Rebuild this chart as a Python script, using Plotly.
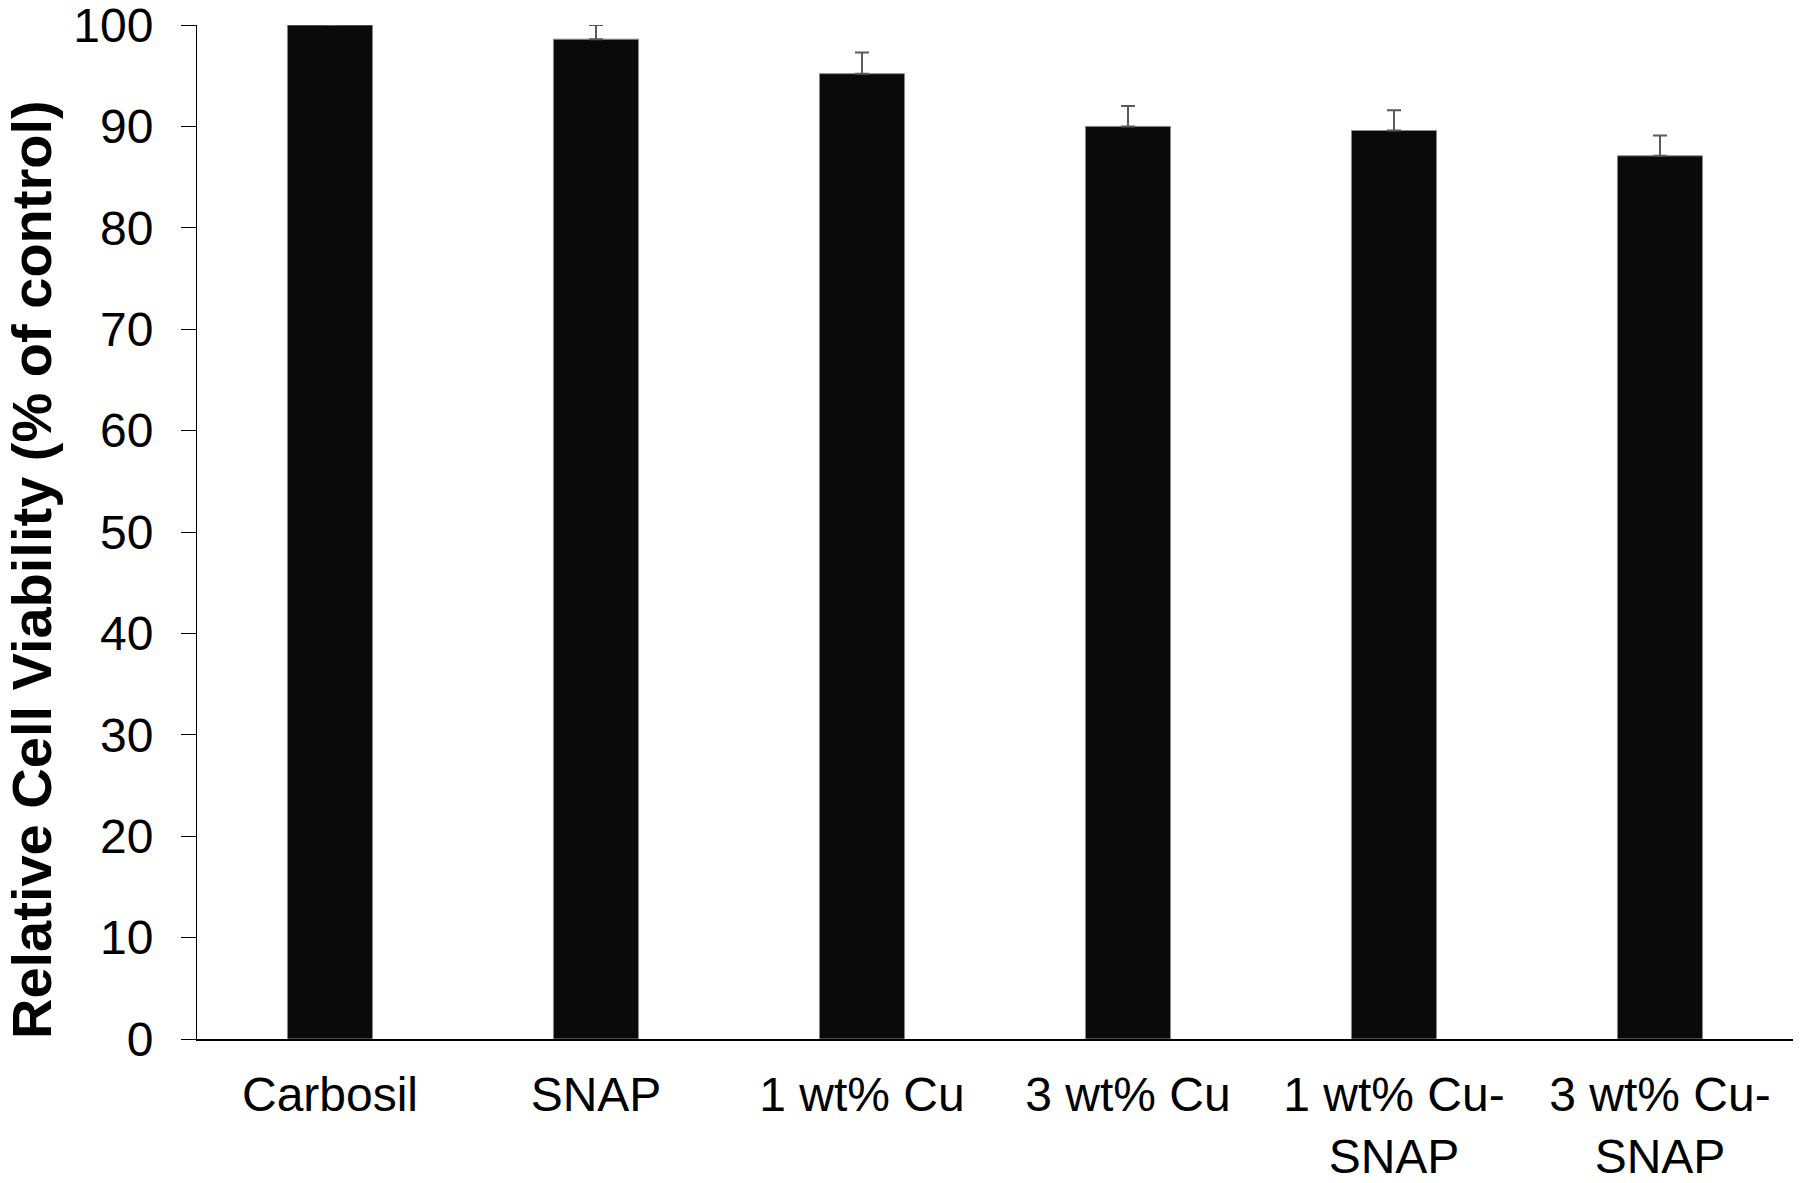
import plotly.graph_objects as go

# Dados
CATEGORIES = ["Carbosil", "SNAP", "1 wt% Cu", "3 wt% Cu", "1 wt% Cu-SNAP", "3 wt% Cu-SNAP"]
TICK_LABELS = ["Carbosil", "SNAP", "1 wt% Cu", "3 wt% Cu", "1 wt% Cu-<br>SNAP", "3 wt% Cu-<br>SNAP"]
VIABILITY = [100.0, 98.6, 95.2, 90.0, 89.6, 87.1]
ERRORS = [0.0, 1.4, 2.1, 2.0, 2.0, 2.0]
Y_TICKS = [0, 10, 20, 30, 40, 50, 60, 70, 80, 90, 100]
Y_TITLE = "Relative Cell Viability (% of control)"

FONT = "Liberation Sans, Arial, sans-serif"

fig = go.Figure()

# Barras pretas com erro só para cima (estilo Excel)
fig.add_trace(go.Bar(
    x=CATEGORIES, y=VIABILITY,
    marker=dict(color="#0a0a0a", line=dict(color="#8c8c8c", width=1)),
    error_y=dict(type="data", symmetric=False, array=ERRORS,
                 arrayminus=[0] * len(ERRORS), visible=True,
                 color="#5a5a5a", thickness=2, width=7),
    showlegend=False,
))

fig.update_layout(
    width=1800, height=1183,
    margin=dict(l=197, r=7, t=25, b=144),
    plot_bgcolor="white", paper_bgcolor="white",
    bargap=0.68,
    font=dict(family=FONT, color="black"),
)

fig.update_xaxes(
    tickmode="array", tickvals=CATEGORIES, ticktext=TICK_LABELS,
    tickfont=dict(size=48, family=FONT, color="black"),
    showline=True, linecolor="black", linewidth=2,
    ticks="", ticklabelstandoff=12,
    showgrid=False, zeroline=False, automargin=False,
)

fig.update_yaxes(
    range=[0, 100], tickvals=Y_TICKS,
    tickfont=dict(size=48, family=FONT, color="black"),
    showline=True, linecolor="black", linewidth=1,
    ticks="outside", ticklen=15, tickwidth=1, tickcolor="black",
    ticklabelstandoff=18, ticklabeloverflow="allow",
    showgrid=False, zeroline=False, automargin=False,
)

# Título do eixo Y (deslocado para baixo como no original)
fig.add_annotation(
    text=Y_TITLE, textangle=-90,
    xref="paper", yref="paper", x=-0.104, y=0.4625,
    xanchor="center", yanchor="middle", showarrow=False,
    font=dict(size=56, family=FONT, color="black", weight="bold"),
)

# tirar a margem padrão do <body> para a figura ficar no canto
fig.write_html("out.html", config={"displayModeBar": False},
               post_script="document.body.style.margin='0px';")
